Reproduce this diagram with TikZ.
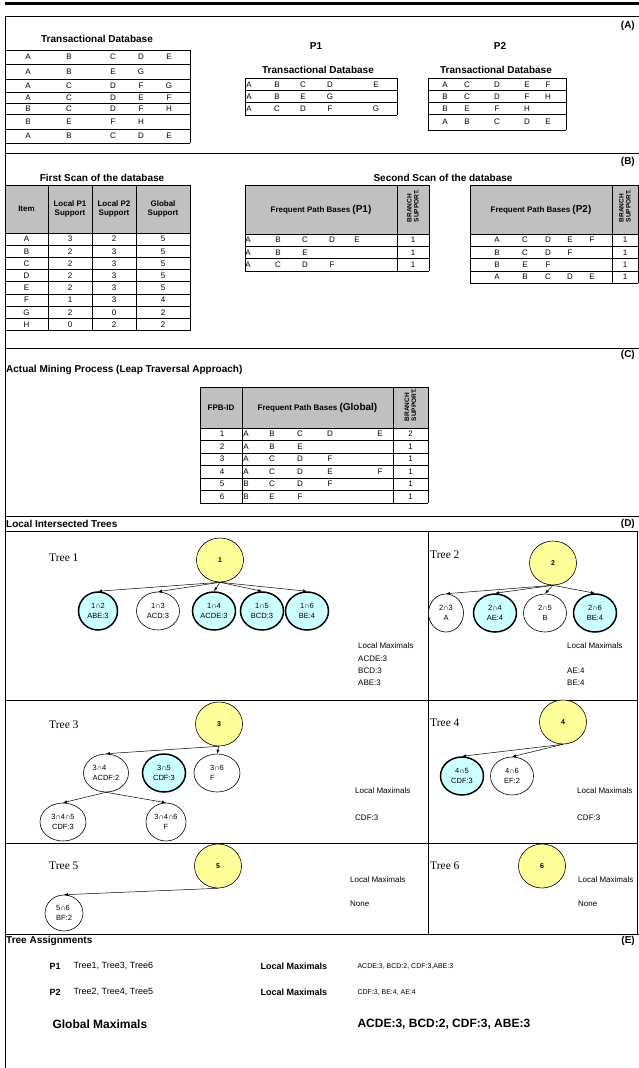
\documentclass[tikz,border=0pt]{standalone}
\usepackage{fontspec}
\setmainfont{Liberation Sans}
\newfontfamily\treefont{Liberation Serif}
\usetikzlibrary{shapes.geometric,arrows.meta}

\definecolor{rootyellow}{RGB}{255,255,153}
\definecolor{maxcyan}{RGB}{204,255,255}
\definecolor{hdrgray}{RGB}{192,192,192}

\newcommand\tabrow[4]{%
  \foreach \t [count=\k] in {#4}{%
    \pgfmathsetmacro\cx{{#2}[\k-1]}%
    \node[tcell] (#1c\k) at (\cx,#3) {\t};%
  }%
}

\tikzset{
  tcell/.style={font=\fontsize{8}{9}\selectfont, inner sep=0pt},
  heading/.style={font=\fontsize{10}{12}\selectfont\bfseries, inner sep=0pt},
  hdr/.style={font=\fontsize{8}{9.5}\selectfont\bfseries, align=center, inner sep=0pt},
  branch/.style={font=\fontsize{6.5}{7}\selectfont\bfseries, align=left, rotate=90, inner sep=0pt},
  treelabel/.style={font=\fontsize{11.5}{13}\selectfont\treefont, anchor=west, inner sep=0pt},
  rootnode/.style={ellipse, draw, line width=0.6pt, fill=rootyellow, minimum width=47pt, minimum height=44pt, font=\fontsize{7}{8}\selectfont\bfseries, inner sep=0pt},
  leafnode/.style={ellipse, draw, line width=0.6pt, fill=white, minimum width=43pt, minimum height=38pt, font=\fontsize{7.5}{9.5}\selectfont, align=center, inner sep=0pt},
  maxnode/.style={leafnode, fill=maxcyan, line width=1.5pt},
  note/.style={font=\fontsize{8}{9.5}\selectfont, anchor=west, inner sep=0pt},
  link/.style={-{Latex[length=4pt,width=3pt]}, line width=0.5pt},
  gridline/.style={line width=0.8pt},
  secline/.style={line width=1pt},
}

\begin{document}
\begin{tikzpicture}[x=1pt,y=-1pt]
\useasboundingbox (0,0) rectangle (639,1068);
\fill[white] (0,0) rectangle (639,1068);

\draw[line width=3pt] (5,3) -- (639,3);
\draw[secline] (5,16) -- (639,16);
\draw[secline] (5,16) -- (5,1068);
\draw[secline] (5,153) -- (639,153);
\draw[secline] (5,348) -- (639,348);
\draw[secline] (5,516) -- (639,516);
\draw[secline] (5,531) -- (637,531);
\draw[secline] (5,700) -- (637,700);
\draw[secline] (5,843) -- (637,843);
\draw[secline] (428,531) -- (428,934);
\draw[secline] (637,531) -- (637,934);
\draw[secline] (5,934) -- (639,934);

\node[heading, anchor=east] (secA) at (635,26) {(A)};
\node[heading, anchor=east] (secB) at (635,162) {(B)};
\node[heading, anchor=east] (secC) at (635,355) {(C)};
\node[heading, anchor=east] (secD) at (635,524) {(D)};
\node[heading, anchor=east] (secE) at (635,941) {(E)};

% (A)
\node[heading] (dbA) at (97,39) {Transactional Database};
\foreach \y in {50,64.5,79.5,92,103,114,129,143} \draw[gridline] (5,\y) -- (190,\y);
\draw[gridline] (190,50) -- (190,143);
\tabrow{a1}{28,69,113,141,169}{57}{A,B,C,D,E}
\tabrow{a2}{28,69,113,141,169}{71.5}{A,B,E,G}
\tabrow{a3}{28,69,113,141,169}{86}{A,C,D,F,G}
\tabrow{a4}{28,69,113,141,169}{97.5}{A,C,D,E,F}
\tabrow{a5}{28,69,113,141,169}{108.5}{B,C,D,F,H}
\tabrow{a6}{28,69,113,141,169}{121.5}{B,E,F,H}
\tabrow{a7}{28,69,113,141,169}{136}{A,B,C,D,E}

\node[heading] (p1) at (316,46) {P1};
\node[heading] (dbP1) at (318,70) {Transactional Database};
\foreach \y in {78,90.5,102.5,115} \draw[gridline] (245,\y) -- (397,\y);
\draw[gridline] (245,78) -- (245,115) (397,78) -- (397,115);
\tabrow{b1}{249,277,303,330,376}{84.5}{A,B,C,D,E}
\tabrow{b2}{249,277,303,330,376}{96.5}{A,B,E,G}
\tabrow{b3}{249,277,303,330,376}{108.5}{A,C,D,F,G}

\node[heading] (p2) at (500,46) {P2};
\node[heading] (dbP2) at (496,70) {Transactional Database};
\foreach \y in {78,90.5,102.5,114.5,130} \draw[gridline] (428,\y) -- (566,\y);
\draw[gridline] (428,78) -- (428,130) (566,78) -- (566,130);
\tabrow{c1}{445,467,497,527,548}{84.5}{A,C,D,E,F}
\tabrow{c2}{445,467,497,527,548}{96.5}{B,C,D,F,H}
\tabrow{c3}{445,467,497,527,548}{108.5}{B,E,F,H}
\tabrow{c4}{445,467,497,527,548}{122}{A,B,C,D,E}

% (B)
\node[heading] (scan1) at (102,178) {First Scan of the database};
\fill[hdrgray] (5,185) rectangle (190,233);
\foreach \y in {185,233,245.2,257.4,269.6,281.8,294,306.2,318.4,330.6} \draw[gridline] (5,\y) -- (190,\y);
\foreach \x in {5,48,92,136,190} \draw[gridline] (\x,185) -- (\x,330.6);
\node[hdr] (hItem) at (26.5,209) {Item};
\node[hdr] (hP1) at (70,209) {Local P1\\Support};
\node[hdr] (hP2) at (114,209) {Local P2\\Support};
\node[hdr] (hGl) at (163,209) {Global\\Support};
\tabrow{s1}{26.5,70,114,163}{239.1}{A,3,2,5}
\tabrow{s2}{26.5,70,114,163}{251.3}{B,2,3,5}
\tabrow{s3}{26.5,70,114,163}{263.5}{C,2,3,5}
\tabrow{s4}{26.5,70,114,163}{275.7}{D,2,3,5}
\tabrow{s5}{26.5,70,114,163}{287.9}{E,2,3,5}
\tabrow{s6}{26.5,70,114,163}{300.1}{F,1,3,4}
\tabrow{s7}{26.5,70,114,163}{312.3}{G,2,0,2}
\tabrow{s8}{26.5,70,114,163}{324.5}{H,0,2,2}

\node[heading] (scan2) at (443,178) {Second Scan of the database};
\fill[hdrgray] (245,185) rectangle (429,234);
\foreach \y in {185,234,246.3,258.6,270.9} \draw[gridline] (245,\y) -- (429,\y);
\foreach \x in {245,397,429} \draw[gridline] (\x,185) -- (\x,270.9);
\node[hdr] (f1h) at (321,210) {Frequent Path Bases {\fontsize{10}{12}\selectfont(P1)}};
\node[branch] (f1b) at (413,206) {BRANCH\\SUPPORT.};
\tabrow{f1a}{248,278,305,332,357,413}{240.2}{A,B,C,D,E,1}
\tabrow{f1b}{248,278,305,413}{252.5}{A,B,E,1}
\tabrow{f1c}{248,278,305,332,413}{264.8}{A,C,D,F,1}

\fill[hdrgray] (470,185) rectangle (638,234);
\foreach \y in {185,234,246.3,258.6,270.9,283.2} \draw[gridline] (470,\y) -- (638,\y);
\foreach \x in {470,612,638} \draw[gridline] (\x,185) -- (\x,283.2);
\node[hdr] (f2h) at (541,210) {Frequent Path Bases {\fontsize{10}{12}\selectfont(P2)}};
\node[branch] (f2b) at (625,206) {BRANCH\\SUPPORT.};
\tabrow{f2a}{497,525,548,570,592,625}{240.2}{A,C,D,E,F,1}
\tabrow{f2b}{497,525,548,570,625}{252.5}{B,C,D,F,1}
\tabrow{f2c}{497,525,548,625}{264.8}{B,E,F,1}
\tabrow{f2d}{497,525,548,570,592,625}{277}{A,B,C,D,E,1}

% (C)
\node[heading, anchor=west] (mining) at (6,370) {Actual Mining Process (Leap Traversal Approach)};
\fill[hdrgray] (200,387) rectangle (428,428);
\foreach \y in {387,428,440.5,453,465.5,478,490.5,503} \draw[gridline] (200,\y) -- (428,\y);
\foreach \x in {200,242,393,428} \draw[gridline] (\x,387) -- (\x,503);
\node[hdr] (gIdh) at (221,407.5) {FPB-ID};
\node[hdr] (gh) at (317.5,407.5) {Frequent Path Bases {\fontsize{10}{12}\selectfont(Global)}};
\node[branch] (gb) at (410.5,405) {BRANCH\\SUPPORT.};
\tabrow{g1}{222,246,272,300,330,380,410.5}{434.2}{1,A,B,C,D,E,2}
\tabrow{g2}{222,246,272,300,410.5}{446.7}{2,A,B,E,1}
\tabrow{g3}{222,246,272,300,330,410.5}{459.2}{3,A,C,D,F,1}
\tabrow{g4}{222,246,272,300,330,380,410.5}{471.7}{4,A,C,D,E,F,1}
\tabrow{g5}{222,246,272,300,330,410.5}{484.2}{5,B,C,D,F,1}
\tabrow{g6}{222,246,272,300,410.5}{496.7}{6,B,E,F,1}

% (D)
\node[heading, anchor=west] (lit) at (6,524) {Local Intersected Trees};

\node[treelabel] (tree1) at (49,558) {Tree 1};
\node[rootnode] (r1) at (220,560) {1};
\node[maxnode, minimum width=39pt] (n12) at (98,611) {1∩2\\ABE:3};
\node[leafnode] (n13) at (158,611) {1∩3\\ACD:3};
\node[maxnode] (n14) at (214,611) {1∩4\\ACDE:3};
\node[maxnode] (n15) at (262,611) {1∩5\\BCD:3};
\node[maxnode] (n16) at (307,611) {1∩6\\BE:4};
\foreach \c in {n12,n13,n14,n15,n16} \draw[link] (r1.south) -- (\c.north);
\node[note] (lm1) at (358,646) {Local Maximals};
\node[note] (lm1a) at (358,659) {ACDE:3};
\node[note] (lm1b) at (358,671) {BCD:3};
\node[note] (lm1c) at (358,683) {ABE:3};

\node[treelabel] (tree2) at (430,555) {Tree 2};
\node[rootnode] (r2) at (553,563) {2};
\node[leafnode, minimum width=35pt] (n23) at (446,613) {2∩3\\A};
\node[maxnode] (n24) at (495,613) {2∩4\\AE:4};
\node[leafnode] (n25) at (545,613) {2∩5\\B};
\node[maxnode] (n26) at (595,613) {2∩6\\BE:4};
\foreach \c in {n23,n24,n25,n26} \draw[link] (r2.south) -- (\c.north);
\node[note] (lm2) at (567,646) {Local Maximals};
\node[note] (lm2a) at (567,671) {AE:4};
\node[note] (lm2b) at (567,683) {BE:4};

\node[treelabel] (tree3) at (49,725) {Tree 3};
\node[rootnode] (r3) at (219,724) {3};
\node[leafnode, minimum width=45pt, align=left] (n34) at (106,773) {3∩4\\ACDF:2};
\node[maxnode] (n35) at (164,773) {3∩5\\CDF:3};
\node[leafnode, minimum width=46pt, align=left] (n36) at (217,773) {3∩6\\F};
\node[leafnode, minimum width=46pt] (n345) at (63,822) {3∩4∩5\\CDF:3};
\node[leafnode, minimum width=40pt] (n346) at (166,822) {3∩4∩6\\F};
\draw[link] (r3.south) -- (n34.north);
\draw[link] (r3.south) -- (n36.north);
\draw[link] (n34.south) -- (n345.north);
\draw[link] (n34.south) -- (n346.north);
\node[note] (lm3) at (355,791) {Local Maximals};
\node[note] (lm3a) at (355,818) {CDF:3};

\node[treelabel] (tree4) at (430,723) {Tree 4};
\node[rootnode] (r4) at (563,722) {4};
\node[maxnode] (n45) at (462,776) {4∩5\\CDF:3};
\node[leafnode] (n46) at (512,776) {4∩6\\EF:2};
\draw[link] (r4.south) -- (n45.north);
\draw[link] (r4.south) -- (n46.north);
\node[note] (lm4) at (577,791) {Local Maximals};
\node[note] (lm4a) at (577,818) {CDF:3};

\node[treelabel] (tree5) at (49,866) {Tree 5};
\node[rootnode] (r5) at (218,866) {5};
\node[leafnode, minimum width=38pt, minimum height=36pt, align=left] (n56) at (64,913) {5∩6\\BF:2};
\draw[link] (r5.south) -- (n56.north);
\node[note] (lm5) at (350,880) {Local Maximals};
\node[note] (lm5a) at (350,904) {None};

\node[treelabel] (tree6) at (430,866) {Tree 6};
\node[rootnode] (r6) at (542,866) {6};
\node[note] (lm6) at (578,880) {Local Maximals};
\node[note] (lm6a) at (578,904) {None};

% (E)
\node[heading, anchor=west] (assign) at (6,941) {Tree Assignments};
\node[font=\fontsize{9}{11}\selectfont\bfseries, anchor=west] (pA) at (46,966) {P1};
\node[font=\fontsize{9}{11}\selectfont, anchor=west] (pAt) at (70,966) {Tree1, Tree3, Tree6};
\node[font=\fontsize{9}{11}\selectfont\bfseries, anchor=west] (pAl) at (257,966) {Local Maximals};
\node[font=\fontsize{7}{9}\selectfont, anchor=west] (pAm) at (354,966) {ACDE:3, BCD:2, CDF:3,ABE:3};
\node[font=\fontsize{9}{11}\selectfont\bfseries, anchor=west] (pB) at (46,992) {P2};
\node[font=\fontsize{9}{11}\selectfont, anchor=west] (pBt) at (70,992) {Tree2, Tree4, Tree5};
\node[font=\fontsize{9}{11}\selectfont\bfseries, anchor=west] (pBl) at (257,992) {Local Maximals};
\node[font=\fontsize{7}{9}\selectfont, anchor=west] (pBm) at (354,992) {CDF:3, BE:4, AE:4};
\node[font=\fontsize{12}{14}\selectfont\bfseries, anchor=west] (glob) at (49,1024) {Global Maximals};
\node[font=\fontsize{12}{14}\selectfont\bfseries, anchor=west] (globm) at (354,1024) {ACDE:3, BCD:2, CDF:3, ABE:3};
\end{tikzpicture}
\end{document}
